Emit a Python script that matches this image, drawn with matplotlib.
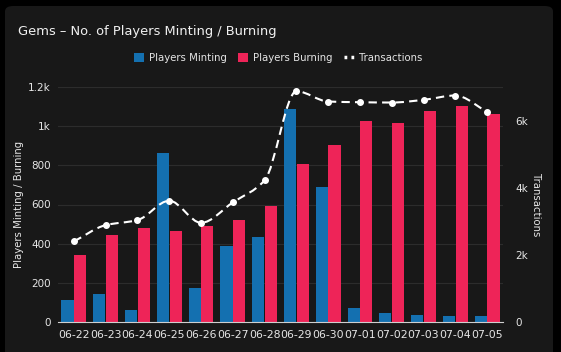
import numpy as np
import matplotlib.pyplot as plt
from matplotlib.patches import FancyBboxPatch, Patch, PathPatch
from matplotlib.path import Path
from matplotlib.lines import Line2D
from matplotlib.ticker import FuncFormatter

plt.rcParams['font.family'] = ['DejaVu Sans']

dates = ['06-22', '06-23', '06-24', '06-25', '06-26', '06-27', '06-28',
         '06-29', '06-30', '07-01', '07-02', '07-03', '07-04', '07-05']
minting = [112, 143, 61, 862, 174, 390, 434, 1088, 689, 71, 48, 36, 32, 32]
burning = [342, 444, 482, 467, 492, 521, 591, 807, 902, 1027, 1016, 1078, 1102, 1061]
transactions = [2400, 2886, 3035, 3612, 2955, 3562, 4219, 6875, 6567, 6547, 6537, 6617, 6746, 6259]

blue = '#1470b0'
red = '#ee2458'
bg = '#181818'
txt = '#e6e6e6'

fig = plt.figure(figsize=(5.61, 3.52), dpi=100)
fig.patch.set_facecolor('black')
# rounded card behind the chart
card = FancyBboxPatch((5 / 561, -0.05), 548 / 561, 1 - 6 / 352 + 0.05,
                      boxstyle='round,pad=0,rounding_size=0.015',
                      transform=fig.transFigure, facecolor=bg, edgecolor='none', zorder=-5)
fig.patches.append(card)

ax = fig.add_axes([58 / 561, 1 - 322 / 352, 445 / 561, 235 / 352])
ax.set_facecolor('none')
x = np.arange(len(dates))
w = 0.38
ax.bar(x - 0.2, minting, width=w, color=blue, zorder=2)
ax.bar(x + 0.2, burning, width=w, color=red, zorder=2)
ax.set_xlim(-0.5, len(dates) - 0.5)
ax.set_ylim(0, 1200)
ax.set_yticks(np.arange(0, 1201, 200))
kfmt = FuncFormatter(lambda v, p: f'{v / 1000:g}k' if v >= 1000 else f'{v:g}')
ax.yaxis.set_major_formatter(kfmt)
ax.set_xticks(x)
ax.set_xticklabels(dates)
ax.grid(axis='y', color='#2c2c2c', linewidth=0.8, zorder=0)
for s in ['top', 'right', 'left']:
    ax.spines[s].set_visible(False)
ax.spines['bottom'].set_color('#cfcfcf')
ax.tick_params(axis='both', length=0, colors=txt, labelsize=7.5)
ax.tick_params(axis='x', labelsize=7.8, pad=6)
ax.tick_params(axis='y', pad=5)
ax.set_ylabel('Players Minting / Burning', color=txt, fontsize=7.3, labelpad=3)

ax2 = ax.twinx()
ax2.set_ylim(0, 7000)
ax2.set_yticks([0, 2000, 4000, 6000])
ax2.yaxis.set_major_formatter(kfmt)
for s in ax2.spines.values():
    s.set_visible(False)
ax2.tick_params(axis='y', length=0, colors=txt, labelsize=7.5, pad=9)
ax2.set_ylabel('Transactions', color=txt, fontsize=7.3, rotation=270, labelpad=9)

# smooth dashed curve through the transaction points (monotone cubic as bezier)
ty = np.array(transactions, dtype=float)
n = len(x)
d = np.diff(ty)
m = np.zeros(n)
m[0], m[-1] = d[0], d[-1]
for i in range(1, n - 1):
    if d[i - 1] * d[i] > 0:
        m[i] = 2 / (1 / d[i - 1] + 1 / d[i])
verts = [(x[0], ty[0])]
codes = [Path.MOVETO]
for i in range(n - 1):
    verts += [(x[i] + 1 / 3, ty[i] + m[i] / 3),
              (x[i + 1] - 1 / 3, ty[i + 1] - m[i + 1] / 3),
              (x[i + 1], ty[i + 1])]
    codes += [Path.CURVE4] * 3
ax2.add_patch(PathPatch(Path(verts, codes), facecolor='none', edgecolor='white',
                        linewidth=1.5, linestyle=(0, (4, 2.5)), zorder=3))
ax2.plot(x, ty, linestyle='none', marker='o', markersize=4, color='white', zorder=4)

fig.text(18 / 561, 1 - 31 / 352, 'Gems – No. of Players Minting / Burning',
         color='#f0f0f0', fontsize=9.4, va='center', ha='left')

handles = [Patch(facecolor=blue, edgecolor='none'),
           Patch(facecolor=red, edgecolor='none'),
           Line2D([0], [0], color='white', linewidth=2.5, linestyle=(0, (0.8, 1.2)),
                  dash_capstyle='butt')]
leg = fig.legend(handles, ['Players Minting', 'Players Burning', 'Transactions'],
                 loc='center', bbox_to_anchor=(278 / 561, 1 - 58 / 352), ncol=3,
                 frameon=False, fontsize=7.3, labelcolor=txt, handlelength=1.0,
                 handleheight=1.0, handletextpad=0.5, columnspacing=1.1)

fig.savefig('out.png', dpi=100, facecolor=fig.get_facecolor())
